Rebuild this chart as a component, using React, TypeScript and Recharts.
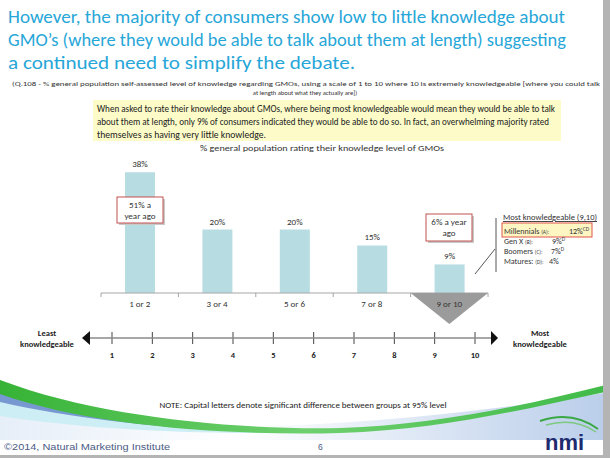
import React from 'react';
import { BarChart, Bar, XAxis, YAxis, LabelList, ComposedChart, Line } from 'recharts';

// knowledge level buckets (% general population)
const categories = ['1 or 2', '3 or 4', '5 or 6', '7 or 8', '9 or 10'];
const shares = [38, 20, 20, 15, 9];

// 1..10 scale under the chart
const scalePoints = [1, 2, 3, 4, 5, 6, 7, 8, 9, 10];

// most knowledgeable (9,10) by generation
const generations = ['Millennials', 'Gen X', 'Boomers', 'Matures:'];
const genCodes = ['(A):', '(B):', '(C):', '(D):'];
const genShares = [12, 9, 7, 4];
const genSig = ['CD', 'D', 'D', ''];

const titleLines = [
  'However, the majority of consumers show low to little knowledge about',
  'GMO\u2019s (where they would be able to talk about them at length) suggesting',
  'a continued need to simplify the debate.',
];
const summaryLines = [
  'When asked to rate their knowledge about GMOs, where being most knowledgeable would mean they would be able to talk',
  'about them at length, only 9% of consumers indicated they would be able to do so.  In fact, an overwhelming  majority rated',
  'themselves as having very little knowledge.',
];

const data = categories.map((cat, i) => ({ cat, share: shares[i] }));
const scaleData = scalePoints.map((n) => ({ n }));

const W = 610;
const H = 458;
const FONT = 'Calibri, Carlito, Lato, sans-serif';
const BAR_COLOR = '#b7dde3';
const TITLE_BLUE = '#27a6d8';

const PLOT_LEFT = 101;
const PLOT_RIGHT = 488;
const AXIS_Y = 293;
const BAND = (PLOT_RIGHT - PLOT_LEFT) / categories.length;

const CategoryTick = (props: any) => {
  const { x, payload, index } = props;
  const last = index === categories.length - 1;
  return (
    <g>
      <line x1={x - BAND / 2} y1={AXIS_Y} x2={x - BAND / 2} y2={AXIS_Y + 4} stroke="#a6a6a6" />
      {last && <line x1={x + BAND / 2} y1={AXIS_Y} x2={x + BAND / 2} y2={AXIS_Y + 4} stroke="#a6a6a6" />}
      {last && (
        <polygon
          points={`${x - BAND / 2},${AXIS_Y} ${x + BAND / 2},${AXIS_Y} ${x},${AXIS_Y + 31}`}
          fill="#9b9b9b"
        />
      )}
      <text x={x} y={AXIS_Y + 14} textAnchor="middle" fontSize={9} fontFamily={FONT} fill="#333">
        {payload.value}
      </text>
    </g>
  );
};

const NUM_Y = 48;
const ScaleTick = (props: any) => {
  const { x, payload } = props;
  return (
    <g>
      <line x1={x} y1={NUM_Y - 6} x2={x} y2={NUM_Y + 6} stroke="#444" />
      <text x={x} y={NUM_Y + 20} textAnchor="middle" fontSize={8.5} fontWeight="bold" fontFamily={FONT} fill="#222">
        {payload.value}
      </text>
    </g>
  );
};

const Callout = ({ x, y, w, h, lines }: { x: number; y: number; w: number; h: number; lines: string[] }) => (
  <g>
    <rect x={x + 2} y={y + 2} width={w} height={h} fill="#c8c8c8" />
    <rect x={x} y={y} width={w} height={h} fill="#fff" stroke="#c0504d" strokeWidth={1} />
    {lines.map((l, i) => (
      <text key={i} x={x + w / 2} y={y + 11 + i * 11} textAnchor="middle" fontSize={9} fontFamily={FONT} fill="#333">
        {l}
      </text>
    ))}
  </g>
);

const Background = () => (
  <svg width={W} height={H} style={{ position: 'absolute', left: 0, top: 0 }}>
    <defs>
      <linearGradient id="sky" x1="0" y1="0" x2="1" y2="0">
        <stop offset="0" stopColor="#e6eef8" />
        <stop offset="0.4" stopColor="#ffffff" />
        <stop offset="1" stopColor="#b9cdea" />
      </linearGradient>
      <linearGradient id="green" x1="0" y1="0" x2="1" y2="0">
        <stop offset="0" stopColor="#36b336" />
        <stop offset="0.5" stopColor="#6fd06f" />
        <stop offset="1" stopColor="#3fba48" />
      </linearGradient>
    </defs>
    <rect x={0} y={0} width={W} height={H} fill="#fff" />
    <rect x={93} y={100} width={468} height={41} fill="#fdfcc8" />
    <path d="M0,398 C150,440 350,432 610,392 L610,440 L0,440 Z" fill="url(#sky)" />
    <path d="M0,390 C70,412 160,426 290,431 C160,431 70,424 0,410 Z" fill="#7898d2" />
    <path d="M0,402 C80,420 170,430 300,433 C170,434 80,428 0,416 Z" fill="#cdeef5" />
    <path
      d="M0,380 C100,418 240,430 340,428 C440,425 530,404 610,384 L610,391 C520,410 440,430 340,433 C230,436 90,426 0,394 Z"
      fill="url(#green)"
    />
    <rect x={603} y={0} width={7} height={H} fill="#b4b4b4" />
    <rect x={0} y={455} width={W} height={3} fill="#b4b4b4" />
  </svg>
);

const valueX = [569, 552, 551, 549];

const Foreground = () => (
  <svg width={W} height={H} style={{ position: 'absolute', left: 0, top: 0, pointerEvents: 'none' }}>
    {titleLines.map((l, i) => (
      <text
        key={i}
        x={8}
        y={23 + i * 23}
        fontSize={19}
        fontFamily={FONT}
        fill={TITLE_BLUE}
        textLength={[557, 558, 347][i]}
        lengthAdjust="spacingAndGlyphs"
      >
        {l}
      </text>
    ))}
    <text x={12} y={86} fontSize={6.5} fontFamily={FONT} fill="#333" textLength={588} lengthAdjust="spacingAndGlyphs">
      (Q.108 - % general population self-assessed level  of knowledge regarding GMOs, using  a scale of 1 to 10 where 10 is extremely knowledgeable [where you  could talk
    </text>
    <text x={305} y={95} fontSize={6.5} fontFamily={FONT} fill="#333" textAnchor="middle">
      at length about what they actually are])
    </text>
    {summaryLines.map((l, i) => (
      <text
        key={i}
        x={97}
        y={112 + i * 13}
        fontSize={10}
        fontFamily={FONT}
        fill="#222"
        textLength={[458, 452, 169][i]}
        lengthAdjust="spacingAndGlyphs"
      >
        {l}
      </text>
    ))}
    <text x={322} y={151} fontSize={9} fontFamily={FONT} fill="#333" textAnchor="middle" textLength={244} lengthAdjust="spacingAndGlyphs">
      % general population  rating their knowledge  level of GMOs
    </text>

    <Callout x={117} y={197} w={46} h={26} lines={['51% a', 'year ago']} />
    <Callout x={426} y={214} w={46} h={27} lines={['6% a year', 'ago']} />

    {/* generation breakout */}
    <line x1={475} y1={274} x2={495} y2={249} stroke="#555" />
    <line x1={496} y1={218} x2={496} y2={272} stroke="#555" />
    <text x={503} y={220} fontSize={9} fontFamily={FONT} fill="#333" textDecoration="underline" textLength={94} lengthAdjust="spacingAndGlyphs">
      Most knowledgeable (9,10)
    </text>
    <rect x={502} y={223} width={90} height={14} fill="#fdf5c2" stroke="#e0564a" />
    {generations.map((g, i) => (
      <g key={g}>
        <text x={504} y={234 + i * 10} fontSize={8} fontFamily={FONT} fill="#333">
          {g} <tspan fontSize={5.5}>{genCodes[i]}</tspan>
        </text>
        <text x={valueX[i]} y={234 + i * 10} fontSize={8} fontFamily={FONT} fill="#333">
          {genShares[i]}%<tspan fontSize={5.5} dy={-3}>{genSig[i]}</tspan>
        </text>
      </g>
    ))}

    {/* number line arrows */}
    <line x1={88} y1={338} x2={494} y2={338} stroke="#8a8a8a" strokeWidth={1.5} />
    <polygon points="82,338 90,331 90,345" fill="#111" />
    <polygon points="498,338 491,331 491,345" fill="#111" />
    <text x={47} y={336} fontSize={8.5} fontWeight="bold" fontFamily={FONT} fill="#222" textAnchor="middle">Least</text>
    <text x={47} y={347} fontSize={8.5} fontWeight="bold" fontFamily={FONT} fill="#222" textAnchor="middle">knowledgeable</text>
    <text x={540} y={336} fontSize={8.5} fontWeight="bold" fontFamily={FONT} fill="#222" textAnchor="middle">Most</text>
    <text x={540} y={347} fontSize={8.5} fontWeight="bold" fontFamily={FONT} fill="#222" textAnchor="middle">knowledgeable</text>

    <text x={303} y={408} fontSize={7.5} fontFamily={FONT} fill="#222" textAnchor="middle" textLength={287} lengthAdjust="spacingAndGlyphs">
      NOTE: Capital letters denote significant difference between groups at 95% level
    </text>
    <text x={4} y={450} fontSize={8.5} fontFamily="'Liberation Sans', Arial, sans-serif" fill="#4b5b86" textLength={166} lengthAdjust="spacingAndGlyphs">
      ©2014, Natural Marketing Institute
    </text>
    <text x={318} y={450} fontSize={8.5} fontFamily="'Liberation Sans', Arial, sans-serif" fill="#4b5b86">6</text>

    {/* nmi logo */}
    <path d="M540,421 Q572,410 598,429" stroke="#3aa843" strokeWidth={2} fill="none" />
    <path d="M546,425 Q574,417 596,432" stroke="#7cc97f" strokeWidth={1.5} fill="none" />
    <text x={545} y={450} fontSize={22} fontWeight="bold" fontFamily="'Liberation Sans', Arial, sans-serif" fill="#1e2b6f">
      nmi
    </text>
  </svg>
);

export default function App() {
  return (
    <div style={{ position: 'absolute', left: 0, top: 0, width: W, height: H, overflow: 'hidden', background: '#fff' }}>
      <Background />
      <div style={{ position: 'absolute', left: 0, top: 0 }}>
        <BarChart
          width={W}
          height={H}
          data={data}
          margin={{ top: 166, right: W - PLOT_RIGHT, bottom: 0, left: PLOT_LEFT }}
          barSize={30}
        >
          <XAxis
            dataKey="cat"
            height={H - AXIS_Y}
            axisLine={{ stroke: '#a6a6a6' }}
            tickLine={false}
            tick={<CategoryTick />}
            interval={0}
          />
          <YAxis hide domain={[0, 40]} />
          <Bar dataKey="share" fill={BAR_COLOR} isAnimationActive={false}>
            <LabelList
              dataKey="share"
              position="top"
              offset={5}
              formatter={(v: any) => `${v}%`}
              style={{ fontSize: 9, fontFamily: FONT, fill: '#333' }}
            />
          </Bar>
        </BarChart>
      </div>
      <div style={{ position: 'absolute', left: 0, top: 290 }}>
        <ComposedChart width={W} height={80} data={scaleData} margin={{ top: 0, right: 135, bottom: 0, left: 112 }}>
          <XAxis
            dataKey="n"
            type="number"
            domain={[1, 10]}
            ticks={scalePoints}
            height={80 - NUM_Y}
            axisLine={false}
            tickLine={false}
            tick={<ScaleTick />}
            interval={0}
          />
          <YAxis hide domain={[0, 20]} />
          <Line dataKey="n" stroke="none" dot={false} isAnimationActive={false} />
        </ComposedChart>
      </div>
      <Foreground />
    </div>
  );
}
